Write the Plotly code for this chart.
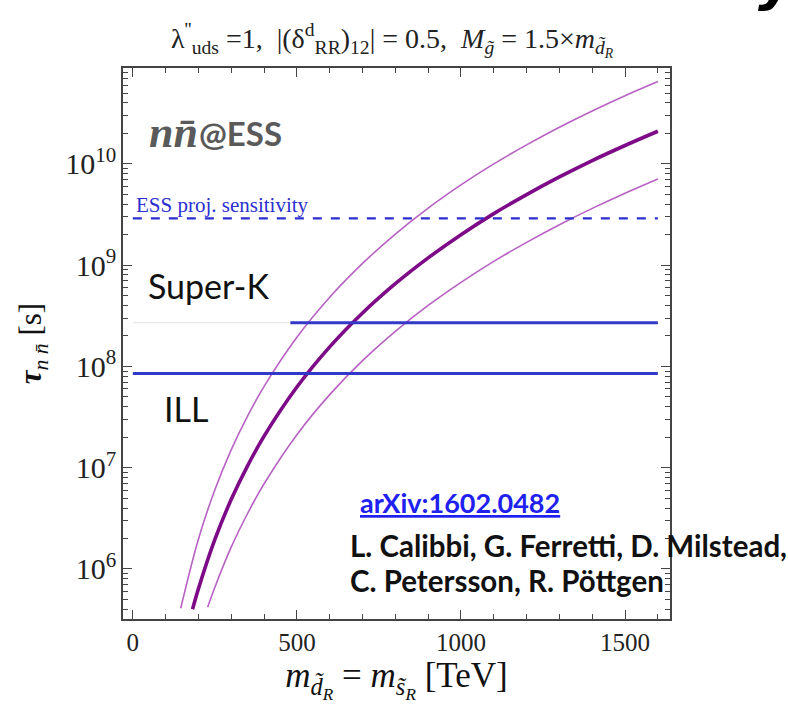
import plotly.graph_objects as go

# ---- data ----
mass_central = [182, 200, 250, 300, 350, 400, 500, 600, 700, 800, 900, 1000, 1100, 1200, 1300, 1400, 1500, 1600]
tau_central = [4.0e5, 6.4e5, 1.96e6, 4.87e6, 1.05e7, 2.05e7, 6.26e7, 1.56e8, 3.37e8, 6.56e8, 1.18e9, 2.0e9,
               3.23e9, 4.98e9, 7.44e9, 1.08e10, 1.52e10, 2.1e10]

mass_upper = [146, 200, 250, 300, 350, 400, 500, 600, 700, 800, 900, 1000, 1100, 1200, 1300, 1400, 1500, 1600]
tau_upper = [4.1e5, 1.98e6, 6.05e6, 1.51e7, 3.25e7, 6.35e7, 1.94e8, 4.82e8, 1.04e9, 2.03e9, 3.66e9, 6.2e9,
             1.0e10, 1.54e10, 2.3e10, 3.33e10, 4.71e10, 6.5e10]

mass_lower = [228, 250, 300, 350, 400, 500, 600, 700, 800, 900, 1000, 1100, 1200, 1300, 1400, 1500, 1600]
tau_lower = [4.2e5, 6.6e5, 1.65e6, 3.55e6, 6.94e6, 2.12e7, 5.27e7, 1.14e8, 2.22e8, 4.0e8, 6.77e8, 1.09e9,
             1.68e9, 2.51e9, 3.64e9, 5.14e9, 7.1e9]

ess_x = [0, 1600]
ess_tau = [2.9e9, 2.9e9]
superk_x = [480, 1600]
superk_tau = [2.7e8, 2.7e8]
superk_faint_x = [0, 480]
superk_faint_tau = [2.7e8, 2.7e8]
ill_x = [0, 1600]
ill_tau = [8.5e7, 8.5e7]

x_ticks = [0, 500, 1000, 1500]
x_ticklabels = ["0", "500", "1000", "1500"]

SERIF = "Liberation Serif"
SANS = "Lato"

fig = go.Figure()

thin = dict(color="rgba(170,70,185,0.85)", width=1.6, shape="spline")
fig.add_trace(go.Scatter(x=superk_faint_x, y=superk_faint_tau, mode="lines",
                         line=dict(color="rgba(228,228,228,1)", width=1)))
fig.add_trace(go.Scatter(x=mass_upper, y=tau_upper, mode="lines", line=thin))
fig.add_trace(go.Scatter(x=mass_lower, y=tau_lower, mode="lines", line=thin))
fig.add_trace(go.Scatter(x=mass_central, y=tau_central, mode="lines",
                         line=dict(color="#7d0a86", width=3.6, shape="spline")))
fig.add_trace(go.Scatter(x=ess_x, y=ess_tau, mode="lines",
                         line=dict(color="#2b2fd0", width=2.2, dash="dash")))
fig.add_trace(go.Scatter(x=superk_x, y=superk_tau, mode="lines",
                         line=dict(color="#3238c8", width=3)))
fig.add_trace(go.Scatter(x=ill_x, y=ill_tau, mode="lines",
                         line=dict(color="#3238c8", width=3)))

annotations = [
    dict(text="λ<sup>''</sup><sub>uds</sub> =1,  |(δ<sup>d</sup><sub>RR</sub>)<sub>12</sub>| = 0.5,  <i>M</i><sub><i>g̃</i></sub> = 1.5×<i>m</i><sub><i>d̃<sub>R</sub></i></sub>",
         xref="paper", yref="paper", x=(392 - 123) / 547, y=1 + (68 - 40) / 551, xanchor="center", yanchor="middle",
         showarrow=False, font=dict(family=SERIF, size=28, color="#222")),
    dict(text="<b><i>nn̄</i></b>", xref="x", yref="y", x=42, y=10.31, xanchor="left", yanchor="middle",
         showarrow=False, font=dict(family=SERIF, size=44, color="#5a5a5a")),
    dict(text="<b>@ESS</b>", xref="x", yref="y", x=196, y=10.31, xanchor="left", yanchor="middle",
         showarrow=False, font=dict(family=SANS, size=33, color="#5a5a5a")),
    dict(text="ESS proj. sensitivity", xref="x", yref="y", x=5, y=9.59, xanchor="left", yanchor="middle",
         showarrow=False, font=dict(family=SERIF, size=21, color="#2b2fd0")),
    dict(text="Super-K", xref="x", yref="y", x=40, y=8.80, xanchor="left", yanchor="middle",
         showarrow=False, font=dict(family=SANS, size=34, color="#111")),
    dict(text="ILL", xref="x", yref="y", x=88, y=7.58, xanchor="left", yanchor="middle",
         showarrow=False, font=dict(family=SANS, size=34, color="#111")),
    dict(text="<b><span style='text-decoration:underline'>arXiv:1602.0482</span></b>", xref="paper", yref="paper",
         x=(358 - 123) / 547, y=(619 - 502) / 551, xanchor="left", yanchor="middle",
         showarrow=False, font=dict(family=SANS, size=27, color="#2020f0")),
    dict(text="<b>L. Calibbi, G. Ferretti, D. Milstead,</b>", xref="paper", yref="paper",
         x=(348 - 123) / 547, y=(619 - 545) / 551, xanchor="left", yanchor="middle",
         showarrow=False, font=dict(family=SANS, size=29.5, color="#111")),
    dict(text="<b>C. Petersson, R. Pöttgen</b>", xref="paper", yref="paper",
         x=(348 - 123) / 547, y=(619 - 580) / 551, xanchor="left", yanchor="middle",
         showarrow=False, font=dict(family=SANS, size=29.5, color="#111")),
    dict(text="<b><i>Py</i></b>", xref="paper", yref="paper",
         x=(715 - 123) / 547, y=1 + (68 - 14) / 551, xanchor="left", yanchor="bottom",
         showarrow=False, font=dict(family="DejaVu Sans", size=56, color="#000")),
]

fig.update_layout(
    width=788, height=713,
    margin=dict(l=123, r=118, t=68, b=94),
    paper_bgcolor="white", plot_bgcolor="white",
    showlegend=False,
    annotations=annotations,
    xaxis=dict(
        range=[-30, 1637], tickvals=x_ticks, ticktext=x_ticklabels,
        ticks="inside", ticklen=9, tickwidth=1.3, tickcolor="#444",
        minor=dict(ticks="inside", ticklen=5, dtick=100, tick0=0, tickcolor="#444"),
        showline=True, linecolor="#444", linewidth=1.8, mirror="ticks",
        showgrid=False, zeroline=False,
        tickfont=dict(family=SERIF, size=25, color="#222"),
        title=dict(text="<i>m</i><sub><i>d̃<sub>R</sub></i></sub> = <i>m</i><sub><i>s̃<sub>R</sub></i></sub> [TeV]",
                   font=dict(family=SERIF, size=35, color="#111"), standoff=8),
    ),
    yaxis=dict(
        type="log", range=[5.506, 10.947], dtick=1, exponentformat="power",
        ticks="inside", ticklen=9, tickwidth=1.3, tickcolor="#444",
        minor=dict(ticks="inside", ticklen=5, tickcolor="#444"),
        showline=True, linecolor="#444", linewidth=1.8, mirror="ticks",
        showgrid=False, zeroline=False,
        tickfont=dict(family=SERIF, size=24, color="#222"),
        title=dict(text="<b><i>τ</i></b><sub><i>n n̄</i></sub> [s]",
                   font=dict(family=SERIF, size=31, color="#111"), standoff=14),
    ),
)

fig.write_html("out.html", config={"displayModeBar": False},
               post_script="document.body.style.margin='0';document.body.style.overflow='hidden';")
